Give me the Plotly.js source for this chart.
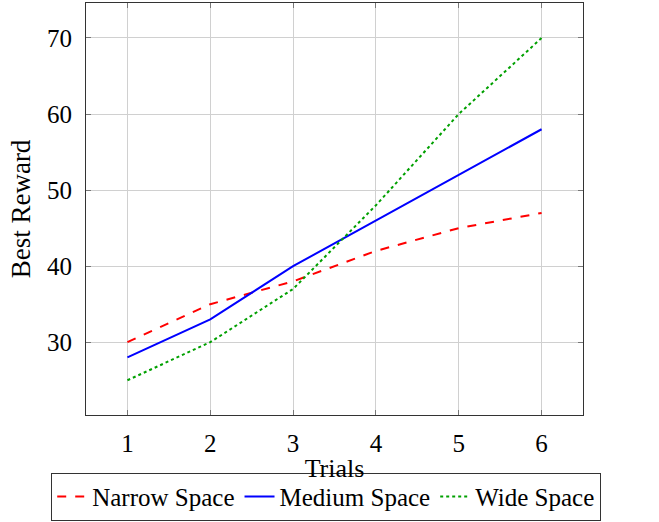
<!DOCTYPE html>
<html>
<head>
<meta charset="utf-8">
<script src="https://cdn.plot.ly/plotly-3.0.1.min.js"></script>
<style>html,body{margin:0;padding:0;background:#fff;}#chart{width:659px;height:522px;}</style>
</head>
<body>
<div id="chart"></div>
<script>
var trials = [1, 2, 3, 4, 5, 6];
var narrowSpace = [30, 35, 38, 42, 45, 47];
var mediumSpace = [28, 33, 40, 46, 52, 58];
var wideSpace = [25, 30, 37, 48, 60, 70];
var seriesNames = ["Narrow Space", "Medium Space", "Wide Space"];
var yTicks = [30, 40, 50, 60, 70];

var font = "Liberation Serif, Times New Roman, serif";
var traces = [
  {x: trials, y: narrowSpace, name: seriesNames[0], mode: "lines",
   line: {color: "#ff0000", width: 2, dash: "dash"}},
  {x: trials, y: mediumSpace, name: seriesNames[1], mode: "lines",
   line: {color: "#0000ff", width: 2}},
  {x: trials, y: wideSpace, name: seriesNames[2], mode: "lines",
   line: {color: "#00a000", width: 2, dash: "dot"}}
];
var axisCommon = {
  showgrid: true, gridcolor: "#d0d0d0", gridwidth: 1,
  showline: true, linecolor: "#333", linewidth: 1, mirror: "ticks",
  ticks: "inside", ticklen: 5, tickcolor: "#777", tickwidth: 1,
  zeroline: false, automargin: false,
  tickfont: {family: font, size: 25, color: "#000"}
};
var layout = {
  width: 659, height: 522,
  margin: {l: 86, r: 76, t: 3, b: 107, autoexpand: false},
  paper_bgcolor: "#fff", plot_bgcolor: "#fff",
  font: {family: font, color: "#000"},
  xaxis: Object.assign({}, axisCommon, {
    range: [0.5, 6.5], tickvals: trials, ticklabelstandoff: 6,
    title: {text: "Trials", font: {family: font, size: 26}, standoff: 2}
  }),
  yaxis: Object.assign({}, axisCommon, {
    range: [20.43, 74.6], tickvals: yTicks, ticklabelstandoff: 8,
    title: {text: "Best Reward", font: {family: font, size: 27}, standoff: 8}
  }),
  showlegend: true,
  legend: {
    orientation: "h", xref: "paper", yref: "paper",
    x: -0.07, xanchor: "left", y: -0.1404, yanchor: "top",
    bordercolor: "#333", borderwidth: 1, bgcolor: "#fff",
    font: {family: font, size: 25, color: "#000"},
    itemwidth: 30, tracegroupgap: 0
  }
};
Plotly.newPlot("chart", traces, layout, {staticPlot: true, displayModeBar: false});
</script>
</body>
</html>
